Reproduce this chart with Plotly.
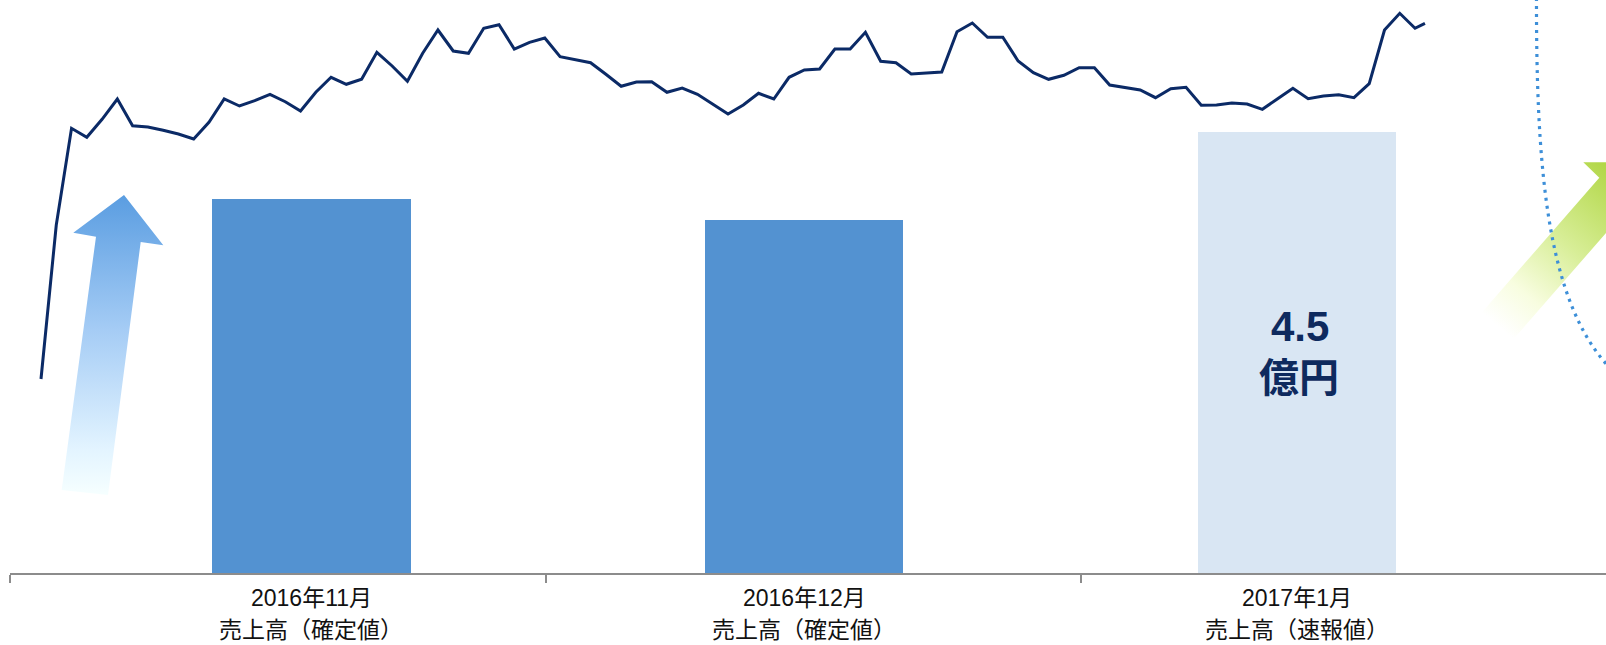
import base64
import plotly.graph_objects as go

# ---------------- data ----------------
categories = ["2016年11月", "2016年12月", "2017年1月"]
category_notes = ["売上高（確定値）", "売上高（確定値）", "売上高（速報値）"]
sales = [3.82, 3.60, 4.5]          # 億円
bar_colors = ["#5392d1", "#5392d1", "#d9e6f3"]
highlight_index = 2
highlight_unit = "億円"

stock_day = list(range(91)) + [90.65]
stock_level = [
    21, 175, 271.7, 262.7, 280.7, 301, 274.3, 273, 269.7, 266,
    261, 277.7, 301, 294, 299.3, 305.7, 298.3, 289, 307.7, 322.7,
    315.7, 320.7, 347.7, 334, 318.7, 346.7, 370, 349, 346.7, 371.7,
    375.3, 351, 357.7, 362, 343.3, 340, 337.3, 325.7, 313.7, 318,
    318.3, 307.7, 312, 305.7, 295.7, 286, 295, 306.7, 301, 322.7,
    330, 331, 351, 351, 367.7, 338.7, 337.3, 326, 327, 328,
    368.3, 377, 362.7, 362.7, 339, 327.3, 320.7, 324.7, 332.3, 332.3,
    315, 312.7, 310, 302.3, 311.3, 312.7, 294.7, 295, 297, 296,
    290.7, 301.3, 311.7, 301.3, 304, 305.3, 302.3, 316.3, 370, 386.7,
    371.7, 376.7,
]
tick_boundaries = [0, 1, 2]

# ---------------- layout constants ----------------
W, H = 1606, 645
PLOT_H = 573
MB = H - PLOT_H

# decorative arrows + dotted arc (pure decoration, pixel space)
svg = f'''<svg xmlns="http://www.w3.org/2000/svg" width="{W}" height="{H}" viewBox="0 0 {W} {H}">
<defs>
<linearGradient id="gb" x1="0" y1="195" x2="0" y2="495" gradientUnits="userSpaceOnUse">
<stop offset="0" stop-color="#5a9de1"/>
<stop offset="0.45" stop-color="#a5ccf5"/>
<stop offset="0.85" stop-color="#e3f4ff"/>
<stop offset="1" stop-color="#f6ffff"/>
</linearGradient>
<linearGradient id="gg" x1="1488" y1="318" x2="1612" y2="170" gradientUnits="userSpaceOnUse">
<stop offset="0" stop-color="#ffffff"/>
<stop offset="0.22" stop-color="#f8fde0"/>
<stop offset="0.55" stop-color="#d8ee98"/>
<stop offset="1" stop-color="#b2d748"/>
</linearGradient>
</defs>
<polygon points="124,195 163.3,245.3 140.7,242 108,495 61.7,490 96,236.7 73.3,232.7" fill="url(#gb)"/>
<polygon points="1467.9,328.5 1599.3,177.7 1583.3,162.3 1640,162.3 1647,219.5 1630.5,204.9 1499,355.7" fill="url(#gg)"/>
<path d="M 1536.5 -10 C 1536 160, 1545 300, 1610 368" fill="none" stroke="#3d8fd8" stroke-width="3.2" stroke-dasharray="3 5"/>
</svg>'''
svg_uri = "data:image/svg+xml;base64," + base64.b64encode(svg.encode("utf-8")).decode("ascii")

fig = go.Figure()

fig.add_trace(go.Bar(
    x=categories, y=sales, width=0.4026,
    marker=dict(color=bar_colors, line=dict(width=0)),
    hoverinfo="skip", showlegend=False,
))

fig.add_trace(go.Scatter(
    x=stock_day, y=stock_level, xaxis="x3", yaxis="y3",
    mode="lines", line=dict(color="#0b2a66", width=3),
    hoverinfo="skip", showlegend=False,
))

# dummy trace to host the tick/baseline axis
fig.add_trace(go.Scatter(
    x=tick_boundaries, y=[None] * len(tick_boundaries), xaxis="x2", yaxis="y",
    mode="markers", hoverinfo="skip", showlegend=False,
))

annotations = []
label_font = dict(family="Liberation Sans, Noto Sans CJK JP", size=23, color="#111111")
for cat, note in zip(categories, category_notes):
    annotations.append(dict(x=cat, xref="x", y=(PLOT_H - 598) / PLOT_H, yref="paper",
                            text=cat, showarrow=False, font=label_font,
                            xanchor="center", yanchor="middle"))
    annotations.append(dict(x=cat, xref="x", y=(PLOT_H - 630) / PLOT_H, yref="paper",
                            text=note, showarrow=False, font=label_font,
                            xanchor="center", yanchor="middle"))

hl_cat = categories[highlight_index]
annotations.append(dict(x=hl_cat, xref="x", y=(PLOT_H - 326) / PLOT_H, yref="paper",
                        text=f"<b>{sales[highlight_index]:.1f}</b>", showarrow=False,
                        font=dict(family="Liberation Sans, Arial", size=42, color="#0e2a5e"),
                        xanchor="center", yanchor="middle", xshift=3))
annotations.append(dict(x=hl_cat, xref="x", y=(PLOT_H - 375) / PLOT_H, yref="paper",
                        text=f"<b>{highlight_unit}</b>", showarrow=False,
                        font=dict(family="Noto Sans CJK JP", size=40, color="#0e2a5e"),
                        xanchor="center", yanchor="middle", xshift=2))

fig.update_layout(
    width=W, height=H,
    margin=dict(l=0, r=0, t=0, b=MB, pad=0),
    paper_bgcolor="white", plot_bgcolor="rgba(0,0,0,0)",
    showlegend=False,
    bargap=0,
    xaxis=dict(type="category", range=[-0.6319, 2.627], showticklabels=False,
               showline=False, showgrid=False, zeroline=False, ticks=""),
    yaxis=dict(range=[0, 5.85], visible=False),
    xaxis2=dict(domain=[10.2 / W, 1], anchor="y", range=[0, (W - 10.2) / 535.4],
                tickvals=tick_boundaries, showticklabels=False,
                showline=True, linewidth=2, linecolor="#8c8c8c",
                ticks="outside", ticklen=8, tickwidth=1.5, tickcolor="#8c8c8c",
                showgrid=False, zeroline=False),
    xaxis3=dict(overlaying="x", range=[-41 / 15.267, (W - 41) / 15.267], visible=False),
    yaxis3=dict(overlaying="y", range=[400 - PLOT_H, 400], visible=False),
    images=[dict(source=svg_uri, xref="paper", yref="paper", x=0, y=1,
                 sizex=1, sizey=H / PLOT_H, xanchor="left", yanchor="top",
                 sizing="stretch", layer="below")],
    annotations=annotations,
)

fig.write_html("out.html", config={"displayModeBar": False})
